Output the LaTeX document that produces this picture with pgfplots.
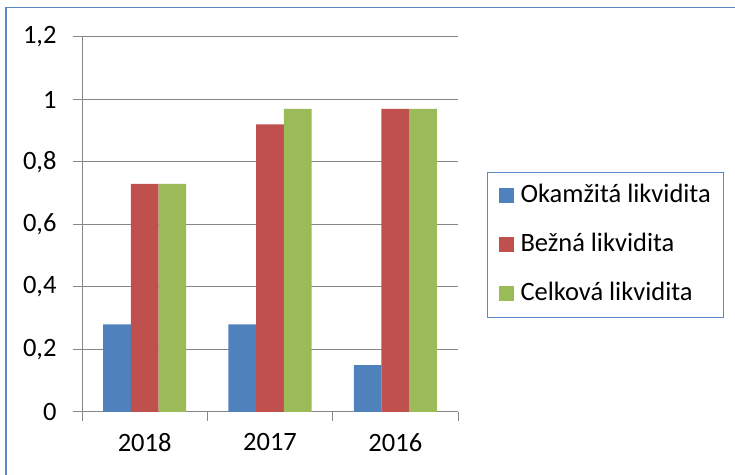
\documentclass[border=0pt]{standalone}
\usepackage{pgfplots}
\pgfplotsset{compat=1.18}
\usepackage{fontspec}
\setmainfont{Carlito}
\definecolor{cblue}{HTML}{4F81BD}
\definecolor{cred}{HTML}{C0504D}
\definecolor{cgreen}{HTML}{9BBB59}
\definecolor{gridc}{HTML}{868686}
\definecolor{framec}{HTML}{5A8AC6}
\newcommand{\chfont}{\fontsize{26.5bp}{31bp}\selectfont}
\pgfplotsset{sqlegend/.style={legend image code/.code={\fill[##1] (0bp,-7.5bp) rectangle (15bp,7.5bp);}}}
\begin{document}
\begin{tikzpicture}[x=1bp,y=1bp]
\path[use as bounding box] (0,0) rectangle (735,475);
\draw[framec, line width=1.5bp] (6,0) -- (6,467.5) -- (735,467.5);
\begin{axis}[
  at={(82bp,63bp)}, anchor=south west,
  scale only axis, width=376bp, height=375bp,
  xmin=-0.5, xmax=2.5, ymin=0, ymax=1.2,
  ybar=0pt, bar width=27.7bp,
  axis x line*=bottom, axis y line*=left,
  axis line style={draw=gridc, line width=1bp, -},
  ymajorgrids, grid style={draw=gridc, line width=1bp},
  ytick={0,0.2,0.4,0.6,0.8,1,1.2},
  xtick={-0.5,0.5,1.5,2.5},
  xticklabels={2018,2017,2016},
  x tick label as interval,
  tick align=outside, major tick length=9bp,
  tick style={draw=gridc, line width=1bp},
  /pgf/number format/assume math mode=true,
  /pgf/number format/use comma,
  tick label style={font=\chfont},
  yticklabel style={xshift=-13bp},
  xticklabel style={yshift=-9bp},
  legend style={at={(1.0771,0.64)}, anchor=north west,
    draw=framec, line width=1bp, font=\chfont,
    inner xsep=11bp, inner ysep=10bp, row sep=22bp,
    nodes={inner sep=2bp, text height=18bp, text depth=5bp},
    cells={anchor=west},
    /tikz/every odd column/.style={column sep=5bp}},
]
\addplot[fill=cblue, draw=none, sqlegend] coordinates {(0,0.28) (1,0.28) (2,0.15)};
\addplot[fill=cred, draw=none, sqlegend] coordinates {(0,0.73) (1,0.92) (2,0.97)};
\addplot[fill=cgreen, draw=none, sqlegend] coordinates {(0,0.73) (1,0.97) (2,0.97)};
\legend{Okamžitá likvidita, Bežná likvidita, Celková likvidita}
\end{axis}
\end{tikzpicture}
\end{document}
